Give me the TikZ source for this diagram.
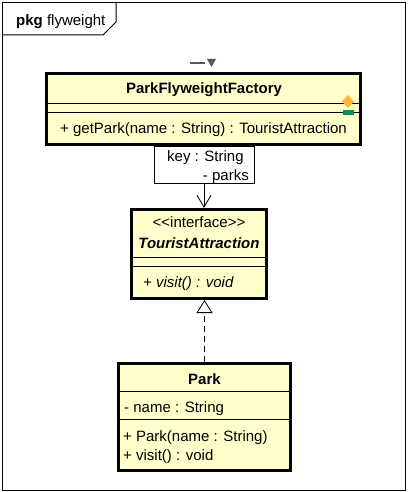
\documentclass[tikz,border=0pt]{standalone}
\usepackage{fontspec}
\setmainfont{Liberation Sans}
\usetikzlibrary{arrows.meta}
\definecolor{clsbg}{RGB}{255,255,204}
\definecolor{icongray}{RGB}{89,89,89}
\definecolor{tagorange}{RGB}{255,184,51}
\definecolor{taggreen}{RGB}{0,145,90}
\tikzset{umlp/.style={
  x=1pt,
  y=-1pt,
  font=\fontsize{15}{18}\selectfont
}}
\tikzset{clsn/.style={
  draw,
  fill=clsbg,
  line width=3pt,
  shape=rectangle,
  inner sep=0pt,
}}
\tikzset{qln/.style={clsn,fill=white,line width=0.8pt}}
\tikzset{txn/.style={inner sep=0pt,anchor=base}}
\tikzset{txl/.style={txn,anchor=base west}}
\tikzset{txr/.style={txn,anchor=base east}}
\tikzset{cmpl/.style={line width=0.8pt}}
\tikzset{lnk/.style={line width=0.8pt}}

\begin{document}
\begin{tikzpicture}[umlp]
    \useasboundingbox (0,0) rectangle (407,492);
    % Package frame
    \draw[line width=1pt] (2,3) rectangle (405,490);
    \draw[line width=1pt] (2,35) -- (103,35) -- (116,22) -- (116,3);
    \node[txl] (pkgl) at (16,26) {\textbf{pkg} flyweight};
    % Factory
    \node[clsn,minimum width=314pt,minimum height=71pt] (factory) at (203.5,109) {};
    \draw[cmpl] (factory.west |- 0,103) -- (factory.east |- 0,103);
    \draw[cmpl] (factory.west |- 0,112) -- (factory.east |- 0,112);
    \node[txn,font=\fontsize{15}{18}\selectfont\bfseries] (factoryn) at (204,94) {ParkFlyweightFactory};
    \node[txl] (factorym) at (60,133) {+ getPark(name : String) : TouristAttraction};
    \draw[icongray,line width=2pt] (190,63) -- (205,63);
    \fill[icongray] (207,59) -- (216,59) -- (211.5,67) -- cycle;
    \fill[tagorange] (348,95) -- (354,101.5) -- (348,108) -- (342,101.5) -- cycle;
    \fill[taggreen] (343,110) rectangle (354,115);
    % Qualifier
    \node[qln,minimum width=100pt,minimum height=37pt] (qual) at (204,164.5) {};
    \node[txl] (qualk) at (167,161.5) {key : String};
    \node[txr] (qualr) at (249,180) {- parks};
    % Interface
    \node[clsn,minimum width=135pt,minimum height=89pt] (iface) at (199,254) {};
    \draw[cmpl] (iface.west |- 0,257) -- (iface.east |- 0,257);
    \draw[cmpl] (iface.west |- 0,266) -- (iface.east |- 0,266);
    \node[txn] (ifaces) at (199,227) {<\kern0pt<interface>\kern0pt>};
    \node[txn,font=\fontsize{15}{18}\selectfont\bfseries\itshape] (ifacen) at (199,248) {TouristAttraction};
    \node[txl,font=\fontsize{15}{18}\selectfont\itshape] (ifacem) at (143,287) {+ visit() : void};
    % Park
    \node[clsn,minimum width=172pt,minimum height=107pt] (park) at (204.5,417) {};
    \draw[cmpl] (park.west |- 0,391) -- (park.east |- 0,391);
    \draw[cmpl] (park.west |- 0,419) -- (park.east |- 0,419);
    \node[txn,font=\fontsize{15}{18}\selectfont\bfseries] (parkn) at (204.5,384) {Park};
    \node[txl] (parka) at (124,412) {- name : String};
    \node[txl] (parkm) at (123,441.5) {+ Park(name : String)};
    \node[txl] (parkv) at (123,460) {+ visit() : void};
    % Links
    \draw[lnk,-{Straight Barb[length=12pt,width=14pt]}] (qual.south) -- (qual.south |- iface.north);
    \draw[lnk,dash pattern=on 6pt off 4pt,-{Triangle[open,length=13pt,width=16pt]}]
      (park.north) -- (park.north |- iface.south);
  \end{tikzpicture}
\end{document}
